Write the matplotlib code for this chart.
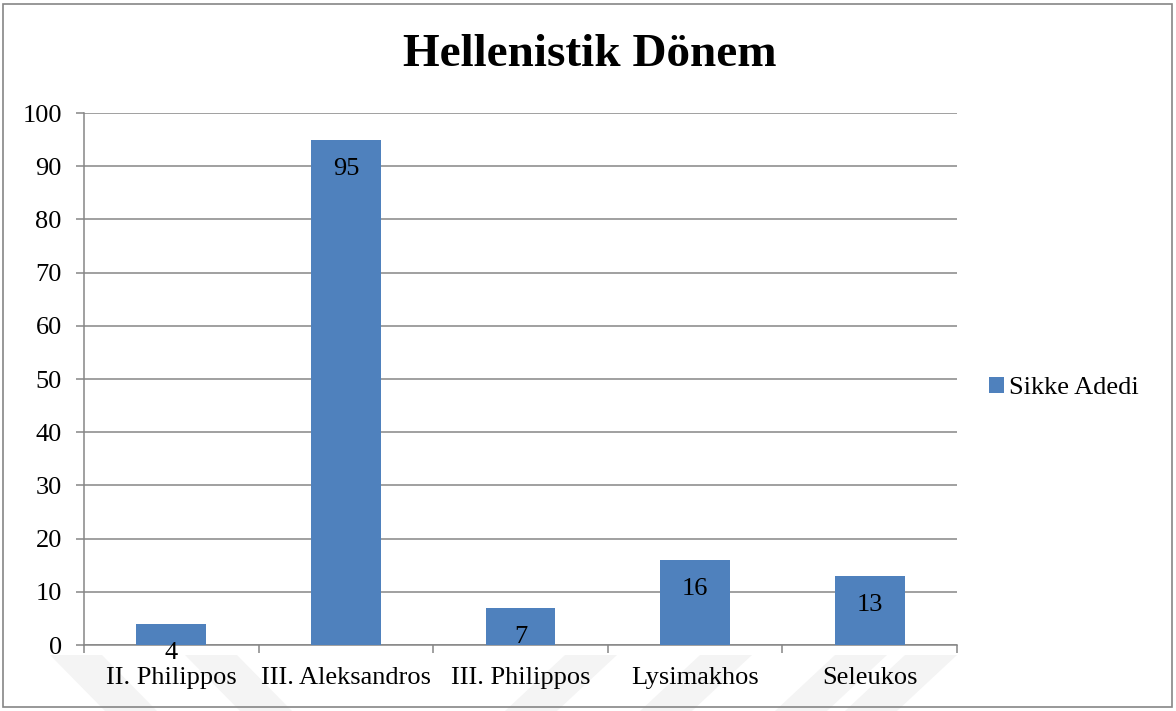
import matplotlib.pyplot as plt
from matplotlib.patches import Polygon, Rectangle

categories = ['II. Philippos', 'III. Aleksandros', 'III. Philippos', 'Lysimakhos', 'Seleukos']
coins = [4, 95, 7, 16, 13]
series_name = 'Sikke Adedi'
title = 'Hellenistik Dönem'

plt.rcParams['font.family'] = ['Liberation Serif', 'DejaVu Serif']
bar_color = '#4F81BD'
grid_color = '#868686'

fig = plt.figure(figsize=(11.76, 7.11), dpi=100)
W, H = 1176, 711

# faint diagonal bands along the bottom edge, kept behind the axes
def band(x0, dx, w=52, y0=655, y1=711):
    pts = [(x0, y0), (x0 + w, y0), (x0 + w + dx, y1), (x0 + dx, y1)]
    pts = [(px / W, 1 - py / H) for px, py in pts]
    fig.patches.append(Polygon(pts, closed=True, transform=fig.transFigure,
                               facecolor='#f4f4f4', edgecolor='none', zorder=-2))

for x0 in (50, 185):
    band(x0, 55)
for x0 in (565, 700, 835, 905):
    band(x0, -60)

# outer frame
fig.patches.append(Rectangle((3 / W, 4 / H), 1169 / W, 703 / H, transform=fig.transFigure,
                             fill=False, edgecolor=grid_color, linewidth=1.2, zorder=-1))

ax = fig.add_axes([84 / W, 1 - 645 / H, 873 / W, 532 / H])
ax.set_facecolor('none')

x = list(range(len(categories)))
ax.bar(x, coins, width=0.4, color=bar_color, zorder=3, label=series_name)

for xi, v in zip(x, coins):
    ax.annotate(str(v), (xi, v), xytext=(0, -21), textcoords='offset points',
                ha='center', va='center', fontsize=19, zorder=4, annotation_clip=False)

ax.set_xlim(-0.5, len(categories) - 0.5)
ax.set_ylim(0, 100)
ax.set_yticks(range(0, 101, 10))
ax.yaxis.grid(True, color=grid_color, linewidth=1.1, zorder=0)
ax.set_axisbelow(True)

# category boundaries as major ticks, names on minor ticks
ax.set_xticks([i - 0.5 for i in range(len(categories) + 1)])
ax.set_xticklabels([])
ax.set_xticks(x, minor=True)
ax.set_xticklabels(categories, minor=True, fontsize=19)
ax.tick_params(axis='x', which='major', length=6, width=1.1, color=grid_color, direction='out')
ax.tick_params(axis='x', which='minor', length=0, pad=16)
ax.tick_params(axis='y', length=6, width=1.1, color=grid_color, labelsize=19, pad=10)

for s in ('top', 'right'):
    ax.spines[s].set_visible(False)
for s in ('left', 'bottom'):
    ax.spines[s].set_color(grid_color)
    ax.spines[s].set_linewidth(1.1)

ax.legend(loc='center left', bbox_to_anchor=(1.037, 0.483), frameon=False, fontsize=19,
          handlelength=0.55, handleheight=0.55, handletextpad=0.2, borderpad=0, borderaxespad=0)

fig.text(590 / W, 1 - 55 / H, title, ha='center', va='center', fontsize=34, fontweight='bold')

fig.savefig('out.png', dpi=100)
